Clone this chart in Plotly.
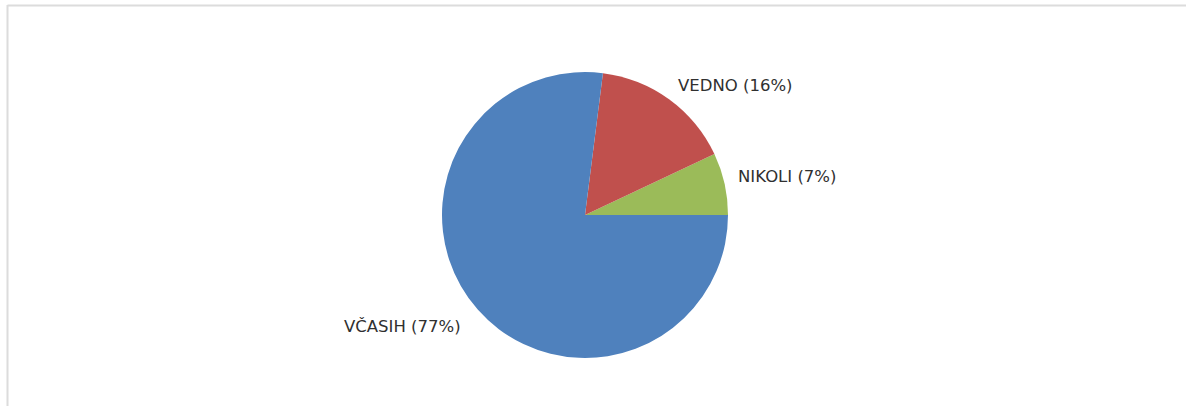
import numpy as np
import plotly.graph_objects as go

# Answer categories and their shares (percent)
labels = ["NIKOLI", "VEDNO", "VČASIH"]
values = [7, 16, 77]
colors = ["#9BBB59", "#C0504D", "#4F81BD"]

W, H = 1186, 406
cx, cy, r = 585, 215, 143          # pie centre and radius in pixels
label_gap = 1.08                   # label distance as a multiple of the radius

total = sum(values)
shares = np.array(values) / total
# first slice starts at 3 o'clock and slices run counterclockwise
rotation = 90 - 360 * shares[0]

fig = go.Figure(
    go.Pie(
        labels=labels,
        values=values,
        sort=False,
        direction="counterclockwise",
        rotation=rotation,
        marker=dict(colors=colors, line=dict(width=0)),
        textposition="none",
        hoverinfo="label+percent",
        showlegend=False,
        domain=dict(
            x=[(cx - r) / W, (cx + r) / W],
            y=[1 - (cy + r) / H, 1 - (cy - r) / H],
        ),
    )
)

# Category labels placed just outside each slice, at its mid-angle
ends = np.cumsum(shares)
mids = (ends - shares / 2) * 2 * np.pi
for lab, share, ang in zip(labels, shares, mids):
    c, s = np.cos(ang), np.sin(ang)
    fig.add_annotation(
        xref="paper", yref="paper",
        x=(cx + label_gap * r * c) / W,
        y=1 - (cy - label_gap * r * s) / H,
        text=f"{lab} ({share:.0%})",
        showarrow=False,
        xanchor="left" if c > 0 else "right",
        yanchor="bottom" if s > 0 else "top",
        xshift=0 if c > 0 else -6,
        yshift=-7 if s > 0 else 2,
        font=dict(family="DejaVu Sans", size=16.5, color="#303030"),
    )

# Thin gray frame along the left and top edges
frame = dict(color="#DCDCDC", width=2)
fig.add_shape(type="line", xref="paper", yref="paper",
              x0=7.5 / W, x1=7.5 / W, y0=0, y1=1 - 5 / H, line=frame)
fig.add_shape(type="line", xref="paper", yref="paper",
              x0=7.5 / W, x1=1, y0=1 - 5.5 / H, y1=1 - 5.5 / H, line=frame)

fig.update_layout(
    width=W,
    height=H,
    margin=dict(l=0, r=0, t=0, b=0),
    paper_bgcolor="white",
    plot_bgcolor="white",
)

fig.write_html("out.html")
